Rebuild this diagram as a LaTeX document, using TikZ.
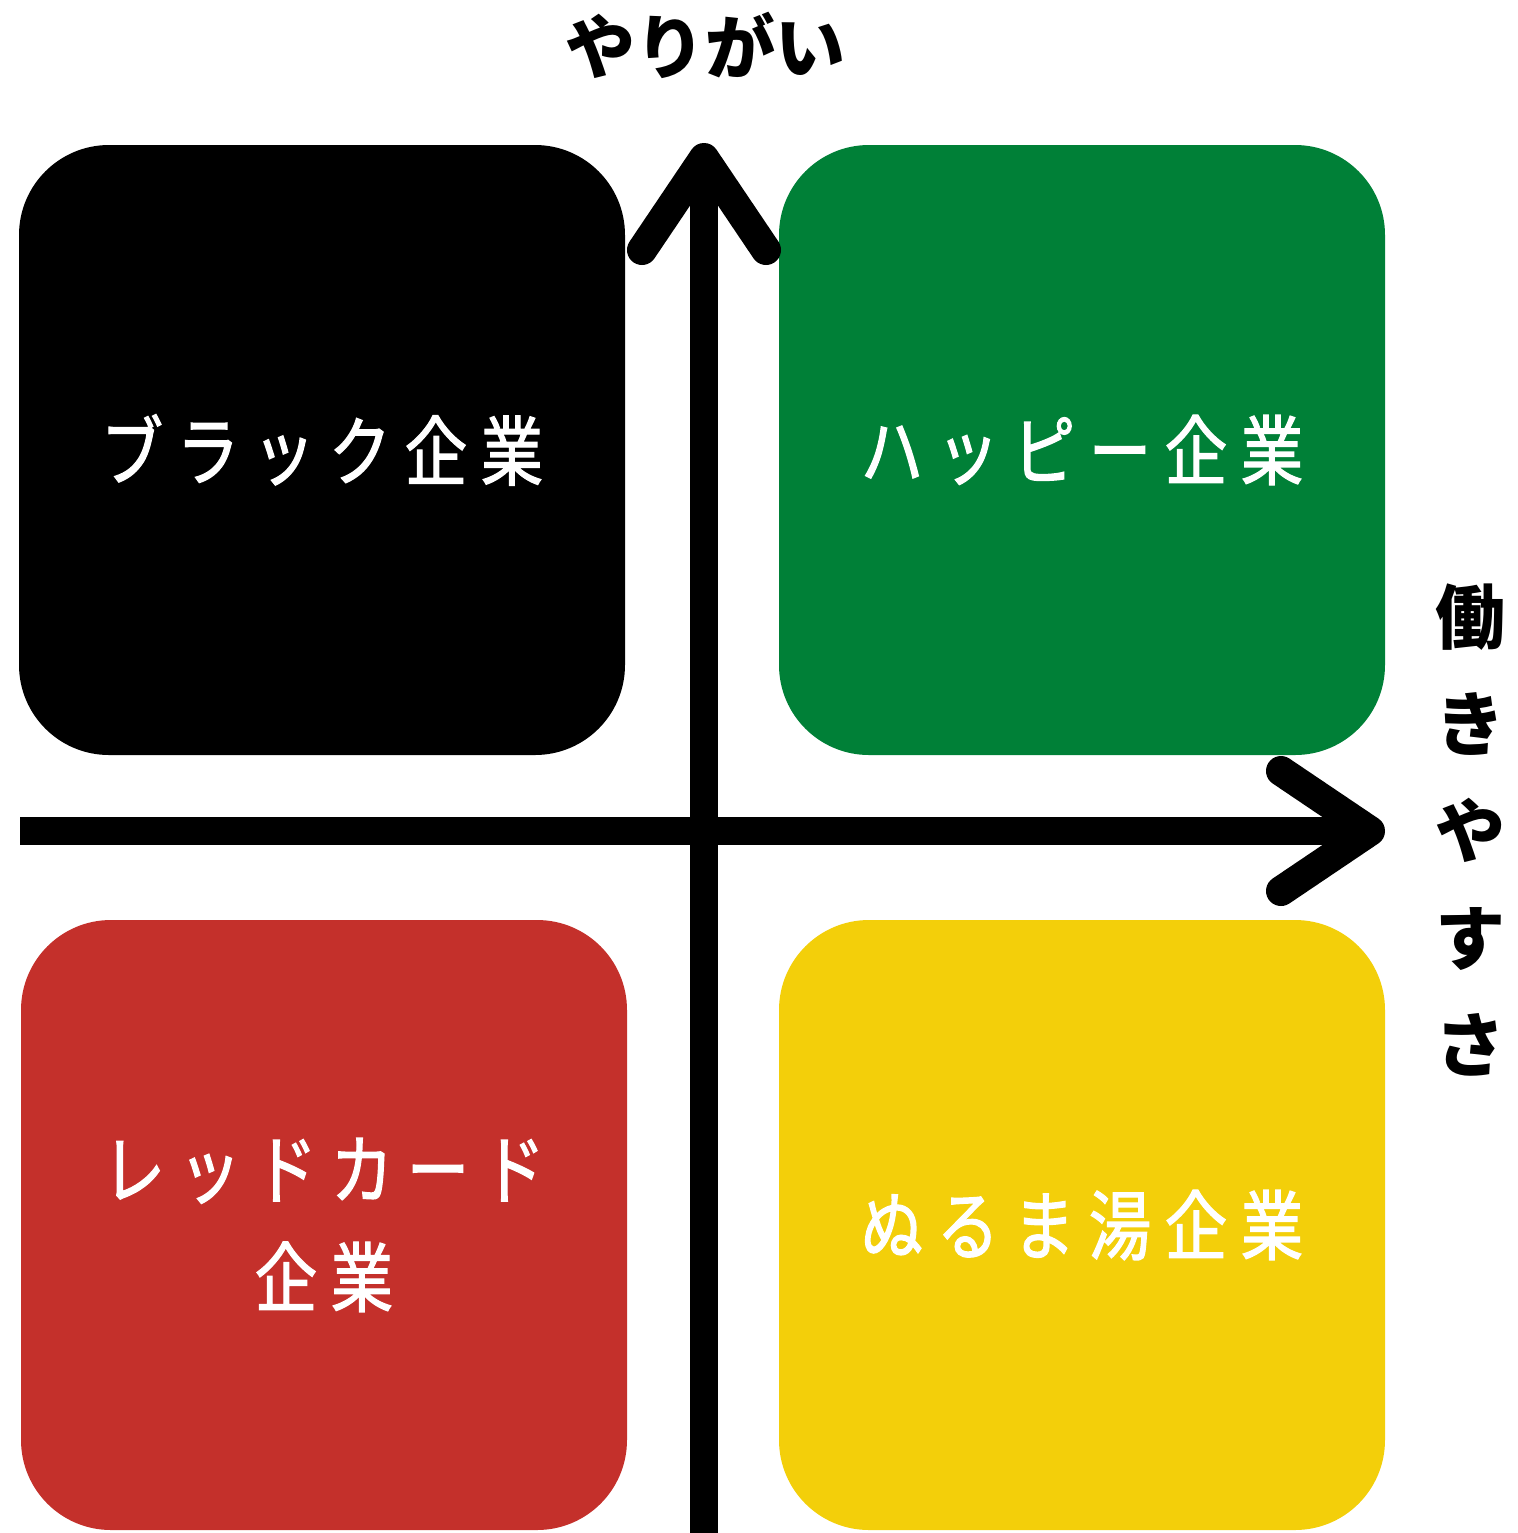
\documentclass[tikz,border=0pt]{standalone}
\usepackage{fontspec}
\newfontfamily\cjk{Noto Sans CJK JP}
\newfontfamily\cjkbox[FakeBold=1.6,FakeStretch=0.82,LetterSpace=18]{Noto Sans CJK JP}
\definecolor{qblack}{RGB}{0,0,0}
\definecolor{qgreen}{RGB}{0,128,55}
\definecolor{qred}{RGB}{196,48,43}
\definecolor{qyellow}{RGB}{243,207,10}
\tikzset{
  quad/.style={rounded corners=45pt, minimum width=303pt, minimum height=305pt,
    inner sep=0pt, align=center, text=white,
    font=\cjkbox\fontsize{38pt}{54pt}\selectfont},
  axisline/.style={line width=14pt, draw=black},
  chevron/.style={line width=15pt, draw=black, line cap=round, line join=round},
  axislabel/.style={font=\cjk\bfseries\fontsize{35pt}{53.5pt}\selectfont, align=center, inner sep=0pt}
}
\begin{document}
\begin{tikzpicture}[x=0.5pt,y=-0.5pt]
\useasboundingbox (0,0) rectangle (1518,1533);
% quadrants
\node[quad, fill=qblack]  (black)  at (322,450)  {ブラック企業};
\node[quad, fill=qgreen]  (green)  at (1082,450) {ハッピー企業};
\node[quad, fill=qred]    (red)    at (324,1225) {レッドカード\\企業};
\node[quad, fill=qyellow] (yellow) at (1082,1225) {ぬるま湯企業};
% axes
\coordinate (vtop) at (704,158);
\coordinate (vbot) at (704,1533);
\coordinate (vl) at (642,250);
\coordinate (vr) at (766,250);
\coordinate (hleft) at (20,831);
\coordinate (hright) at (1370,831);
\coordinate (hu) at (1281,771);
\coordinate (hd) at (1281,891);
\draw[axisline] (vbot) -- (vtop);
\draw[axisline] (hleft) -- (hright);
\draw[chevron] (vl) -- (vtop) -- (vr);
\draw[chevron] (hu) -- (hright) -- (hd);
% labels
\node[axislabel] (ylab) at (705,45) {やりがい};
\node[axislabel] (xlab) at (1470,830) {働\\き\\や\\す\\さ};
\end{tikzpicture}
\end{document}
